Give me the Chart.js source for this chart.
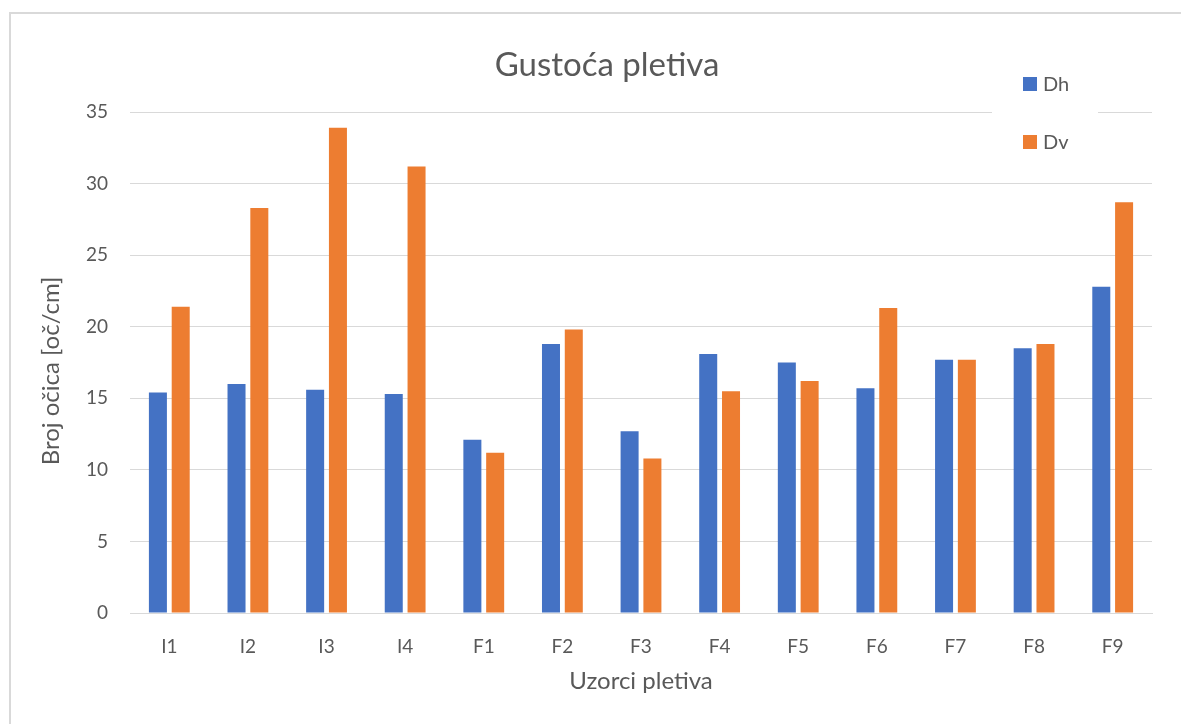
<!DOCTYPE html>
<html>
<head>
<meta charset="utf-8">
<script src="https://cdn.jsdelivr.net/npm/chart.js@4.4.0/dist/chart.umd.min.js"></script>
<style>
  html, body { margin: 0; padding: 0; background: #fff; }
  #wrap { width: 1181px; height: 724px; position: relative; }
</style>
</head>
<body>
<div id="wrap"><canvas id="chart"></canvas></div>
<script>
// chart data
var categories = ['I1', 'I2', 'I3', 'I4', 'F1', 'F2', 'F3', 'F4', 'F5', 'F6', 'F7', 'F8', 'F9'];
var dhValues = [15.4, 16.0, 15.6, 15.3, 12.1, 18.8, 12.7, 18.1, 17.5, 15.7, 17.7, 18.5, 22.8];
var dvValues = [21.4, 28.3, 33.9, 31.2, 11.2, 19.8, 10.8, 15.5, 16.2, 21.3, 17.7, 18.8, 28.7];
var seriesNames = ['Dh', 'Dv'];
var chartTitle = 'Gustoća pletiva';
var yTitle = 'Broj očica [oč/cm]';
var xTitle = 'Uzorci pletiva';

var FONT = 'Lato, "Open Sans", sans-serif';
var GREY = '#595959';
var GRID = '#d9d9d9';

// frame, title, y title and legend drawn by hand (Excel look)
var decorations = {
  id: 'decorations',
  beforeDraw: function (chart) {
    var ctx = chart.ctx;
    ctx.save();
    ctx.fillStyle = '#fff';
    ctx.fillRect(0, 0, chart.width, chart.height);
    ctx.strokeStyle = GRID;
    ctx.lineWidth = 2;
    ctx.strokeRect(10, 13, chart.width + 10, chart.height + 10);
    ctx.restore();
  },
  afterDraw: function (chart) {
    var ctx = chart.ctx;
    ctx.save();
    ctx.fillStyle = GREY;
    ctx.textAlign = 'center';
    ctx.textBaseline = 'middle';
    // title
    ctx.font = '33px ' + FONT;
    ctx.fillText(chartTitle, 607, 65);
    // y axis title
    ctx.save();
    ctx.translate(51, 371);
    ctx.rotate(-Math.PI / 2);
    ctx.font = '24px ' + FONT;
    ctx.fillText(yTitle, 0, 0);
    ctx.restore();
    // legend box
    ctx.fillStyle = '#fff';
    ctx.fillRect(992, 60, 106, 110);
    var rows = [84, 142];
    chart.data.datasets.forEach(function (ds, i) {
      ctx.fillStyle = ds.backgroundColor;
      ctx.fillRect(1023, rows[i] - 7, 14, 14);
      ctx.fillStyle = GREY;
      ctx.font = '20px ' + FONT;
      ctx.textAlign = 'left';
      ctx.fillText(ds.label, 1043, rows[i] + 1);
    });
    ctx.restore();
  }
};

var ctx = document.getElementById('chart').getContext('2d');
var chart = new Chart(ctx, {
  type: 'bar',
  data: {
    labels: categories,
    datasets: [{
      label: seriesNames[0],
      data: dhValues,
      backgroundColor: '#4472c4',
      borderWidth: 0,
      categoryPercentage: 0.58,
      barPercentage: 0.79
    }, {
      label: seriesNames[1],
      data: dvValues,
      backgroundColor: '#ed7d31',
      borderWidth: 0,
      categoryPercentage: 0.58,
      barPercentage: 0.79
    }]
  },
  options: {
    responsive: true,
    maintainAspectRatio: false,
    animation: false,
    devicePixelRatio: 1,
    layout: { padding: { top: 112, left: 10, right: 29, bottom: 11 } },
    plugins: {
      legend: { display: false },
      title: { display: false },
      tooltip: { enabled: false }
    },
    scales: {
      x: {
        grid: { display: false, drawTicks: false },
        border: { display: true, color: GRID, width: 1 },
        ticks: { color: GREY, font: { family: FONT, size: 19 }, padding: 22 },
        title: { display: true, text: xTitle, color: GREY, font: { family: FONT, size: 24 }, padding: { top: 0, bottom: 17 } },
        afterFit: function (scale) { scale.height = 100; }
      },
      y: {
        min: 0,
        max: 35,
        ticks: { stepSize: 5, color: GREY, font: { family: FONT, size: 19 }, padding: 22 },
        grid: { color: GRID, drawTicks: false },
        border: { display: false },
        afterFit: function (scale) { scale.width = 120; }
      }
    }
  },
  plugins: [decorations]
});
</script>
</body>
</html>
